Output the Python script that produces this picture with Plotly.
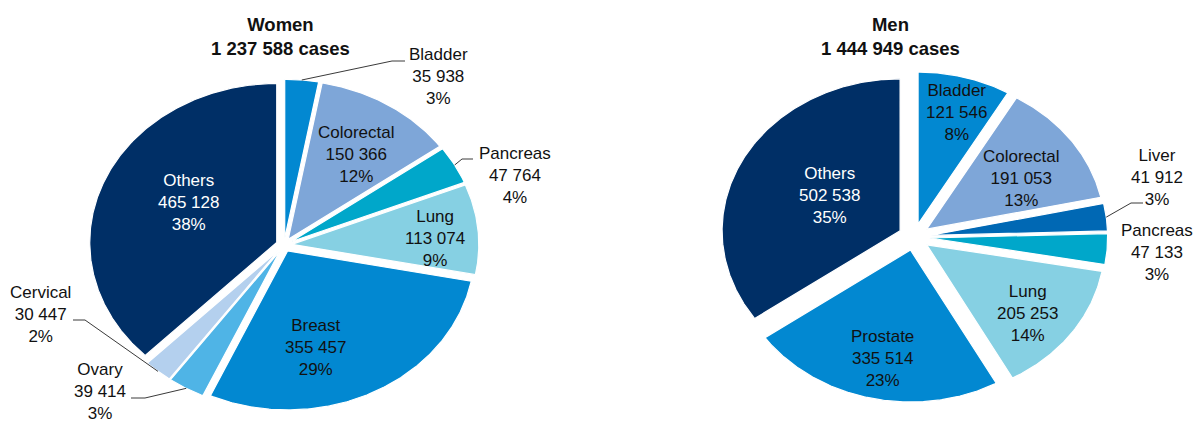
import math
import numpy as np
import plotly.graph_objects as go

# ---------------- data ----------------
women_labels = ["Bladder", "Colorectal", "Pancreas", "Lung", "Breast", "Ovary", "Cervical", "Others"]
women_cases = [35938, 150366, 47764, 113074, 355457, 39414, 30447, 465128]

men_labels = ["Bladder", "Colorectal", "Liver", "Pancreas", "Lung", "Prostate", "Others"]
men_cases = [121546, 191053, 41912, 47133, 205253, 335514, 502538]

pie_titles = ["Women", "Men"]

# ---------------- style ----------------
W, H = 1198, 423
FONT = "Liberation Sans, Arial, sans-serif"

women_colors = ["#0288d1", "#7ea6d8", "#00a7ca", "#86d0e3", "#0288d1", "#4fb4e6", "#b4d0ee", "#002f66"]
men_colors = ["#0288d1", "#7ea6d8", "#0068b4", "#00a7ca", "#86d0e3", "#0288d1", "#002f66"]

# pie geometry (pixels): centre, horizontal / vertical radius, explode fraction
women_geom = dict(cx=284, cy=245, rx=187, ry=159, pull=0.042, title_x=280)
men_geom = dict(cx=914, cy=237, rx=178, ry=152, pull=0.088, title_x=890)

# label placement per slice: ("in", angle nudge deg, radius frac) or
# ("out", text x, text y, elbow x, elbow y, end x, end y)
women_place = [
    ("out", 438, 76, 392, 61, 405, 61),
    ("in", 1.7, 0.69),
    ("out", 515, 175, 462, 159, 473, 159),
    ("in", 2.4, 0.81),
    ("in", 12.8, 0.663),
    ("out", 100, 391, 145, 398, 131, 398),
    ("out", 40, 314, 85, 320, 73, 320),
    ("in", 4.9, 0.577),
]
men_place = [
    ("in", 0.9, 0.855),
    ("in", 3.7, 0.717),
    ("out", 1157, 177, 1131, 203, 1143, 203),
    ("out", 1157, 252, None, None, None, None),
    ("in", 2.4, 0.812),
    ("in", -0.3, 0.816),
    ("in", 2.9, 0.547),
]

LABEL_SIZE = 17
TITLE_SIZE = 18.5
fig = go.Figure()
annotations = []


def fmt(v):
    return f"{v:,}".replace(",", " ")


def draw_pie(labels, values, colors, geom, place, title):
    total = sum(values)
    cx, cy, rx, ry, pull = geom["cx"], geom["cy"], geom["rx"], geom["ry"], geom["pull"]
    cum = np.concatenate([[0], np.cumsum(values)]) / total * 360.0
    for i, (lab, val, col) in enumerate(zip(labels, values, colors)):
        a0, a1 = cum[i], cum[i + 1]
        am = math.radians((a0 + a1) / 2)
        ox, oy = pull * rx * math.sin(am), -pull * ry * math.cos(am)
        th = np.radians(np.linspace(a0, a1, max(4, int((a1 - a0) * 2))))
        xs = np.concatenate([[cx + ox], cx + ox + rx * np.sin(th), [cx + ox]])
        ys = np.concatenate([[cy + oy], cy + oy - ry * np.cos(th), [cy + oy]])
        fig.add_trace(go.Scatter(
            x=xs, y=ys, mode="lines", fill="toself", fillcolor=col,
            line=dict(color="white", width=1.2), hoverinfo="text",
            hovertext=f"{title} – {lab}: {fmt(val)}", showlegend=False))
        pct = round(val / total * 100)
        text = f"{lab}<br>{fmt(val)}<br>{pct}%"
        p = place[i]
        if p[0] == "in":
            ang = math.radians((a0 + a1) / 2 + p[1])
            tx = cx + p[2] * rx * math.sin(ang)
            ty = cy - p[2] * ry * math.cos(ang)
            tcol = "white" if col == "#002f66" else "#111111"
        else:
            tx, ty = p[1], p[2]
            tcol = "#111111"
            if p[3] is not None:
                sx = cx + (1 + pull) * rx * math.sin(am)
                sy = cy - (1 + pull) * ry * math.cos(am)
                fig.add_trace(go.Scatter(
                    x=[sx, p[3], p[5]], y=[sy, p[4], p[6]], mode="lines",
                    line=dict(color="#3a3a3a", width=1), hoverinfo="skip",
                    showlegend=False))
        annotations.append(dict(
            x=tx, y=ty, xref="x", yref="y", text=text, showarrow=False,
            align="center", xanchor="center", yanchor="middle",
            font=dict(family=FONT, size=LABEL_SIZE, color=tcol)))
    annotations.append(dict(
        x=geom["title_x"], y=36, xref="x", yref="y",
        text=f"<b>{title}<br>{fmt(total)} cases</b>", showarrow=False,
        align="center", xanchor="center", yanchor="middle",
        font=dict(family=FONT, size=TITLE_SIZE, color="#111111")))


draw_pie(women_labels, women_cases, women_colors, women_geom, women_place, pie_titles[0])
draw_pie(men_labels, men_cases, men_colors, men_geom, men_place, pie_titles[1])

fig.update_layout(
    width=W, height=H,
    margin=dict(l=0, r=0, t=0, b=0),
    paper_bgcolor="white", plot_bgcolor="white",
    xaxis=dict(range=[0, W], visible=False, fixedrange=True),
    yaxis=dict(range=[H, 0], visible=False, fixedrange=True),
    annotations=annotations,
    showlegend=False,
)

fig.write_html(
    "out.html",
    config={"displayModeBar": False},
    post_script="document.body.style.margin='0';document.body.style.overflow='hidden';",
)
